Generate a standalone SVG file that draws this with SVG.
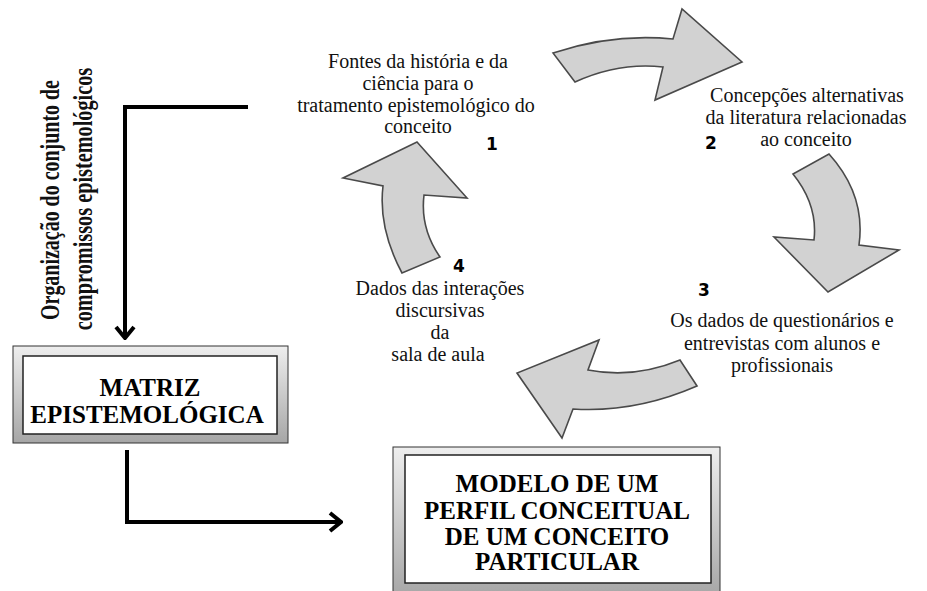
<svg xmlns="http://www.w3.org/2000/svg" width="927" height="591" viewBox="0 0 927 591">
<style>
.lbl{font-size:20px;fill:#111;text-anchor:middle}
.num{font-family:"DejaVu Sans",sans-serif;font-weight:bold;font-size:17px;fill:#000;text-anchor:middle}
.box{font-family:"Liberation Serif","Times New Roman",serif;font-weight:bold;font-size:25px;fill:#000;text-anchor:middle}
.side{font-family:"Liberation Serif","Times New Roman",serif;font-weight:bold;font-size:28px;fill:#111;text-anchor:middle}
.cyc{fill:#d2d2d2;stroke:#4a4a4a;stroke-width:1.6;stroke-linejoin:miter}
.frame{fill:url(#fg);stroke:#333;stroke-width:1}
.inner{fill:#fff;stroke:#222;stroke-width:1.5}
.conn{fill:none;stroke:#000;stroke-width:4;stroke-linejoin:miter}
</style>
<defs>
<linearGradient id="fg" x1="0" y1="0" x2="0" y2="1">
<stop offset="0" stop-color="#eeeeee"/>
<stop offset="1" stop-color="#a6a6a6"/>
</linearGradient>
<marker id="chev" viewBox="-14 -11 16 22" refX="0" refY="0" markerWidth="16" markerHeight="22" markerUnits="userSpaceOnUse" orient="auto">
<path d="M-11,-9 L0,0 L-11,9" fill="none" stroke="#000" stroke-width="4" stroke-linejoin="miter"/>
</marker>
</defs>
<rect width="927" height="591" fill="#fff"/>

<g id="connectors">
<path class="conn" d="M248,107 H125 V338" marker-end="url(#chev)"/>
<path class="conn" d="M127,450 V522 H341" marker-end="url(#chev)"/>
</g>

<g id="cycle-arrows">
<path id="arrow1" class="cyc" d="M553,53 Q613,33 673,39 L682,9 L742,62 L655,100 L663,67 Q619,62 575,82 Z"/>
<path id="arrow2" class="cyc" d="M829,154 Q866,195 859,245 L899,250 L828,292 L774,237 L814,240 Q818,205 793,174 Z"/>
<path id="arrow3" class="cyc" d="M680,360 Q634,379 588,370 L599,340 L517,373 L562,438 L573,409 Q635,413 697,386 Z"/>
<path id="arrow4" class="cyc" d="M417,142 L467,198 L424,195 Q420,228 440,257 L402,273 Q378,228 383,186 L343,178 Z"/>
</g>

<g id="side-label">
<text class="side" transform="translate(59,200) rotate(-90) scale(0.713,1)">Organização do conjunto de</text>
<text class="side" transform="translate(92,199) rotate(-90) scale(0.724,1)">compromissos epistemológicos</text>
</g>

<g id="step1">
<text class="lbl" x="418" y="68" style="font-family:'Liberation Serif'">Fontes da  história e da</text>
<text class="lbl" x="418" y="90" style="font-family:'Liberation Serif'">ciência para o</text>
<text class="lbl" x="416" y="112" style="font-family:'Liberation Serif'">tratamento epistemológico do</text>
<text class="lbl" x="418" y="133" style="font-family:'Liberation Serif'">conceito</text>
<text class="num" x="492" y="150">1</text>
</g>

<g id="step2">
<text class="lbl" x="807" y="102" style="font-family:'Liberation Serif'">Concepções alternativas</text>
<text class="lbl" x="806" y="124" style="font-family:'Liberation Serif'">da literatura relacionadas</text>
<text class="lbl" x="806" y="146" style="font-family:'Liberation Serif'">ao conceito</text>
<text class="num" x="711" y="149">2</text>
</g>

<g id="step3">
<text class="num" x="704" y="296">3</text>
<text class="lbl" x="782" y="327" style="font-family:'Liberation Serif'">Os dados de questionários e</text>
<text class="lbl" x="782" y="350" style="font-family:'Liberation Serif'">entrevistas com alunos e</text>
<text class="lbl" x="782" y="372" style="font-family:'Liberation Serif'">profissionais</text>
</g>

<g id="step4">
<text class="num" x="459" y="272">4</text>
<text class="lbl" x="440" y="295" style="font-family:'Liberation Serif'">Dados das interações</text>
<text class="lbl" x="440" y="317" style="font-family:'Liberation Serif'">discursivas</text>
<text class="lbl" x="440" y="339" style="font-family:'Liberation Serif'">da</text>
<text class="lbl" x="438" y="361" style="font-family:'Liberation Serif'">sala de aula</text>
</g>

<g id="matriz">
<rect class="frame" x="13" y="346" width="275" height="97"/>
<rect class="inner" x="23" y="356" width="254" height="78"/>
<text class="box" x="150" y="396">MATRIZ</text>
<text class="box" x="147" y="423">EPISTEMOLÓGICA</text>
</g>

<g id="modelo">
<rect class="frame" x="393" y="447" width="327" height="150"/>
<rect class="inner" x="405" y="455" width="306" height="128"/>
<text class="box" x="557" y="492" font-size="24">MODELO DE UM</text>
<text class="box" x="557" y="519" font-size="24">PERFIL CONCEITUAL</text>
<text class="box" x="557" y="545" font-size="24">DE UM CONCEITO</text>
<text class="box" x="557" y="570" font-size="24">PARTICULAR</text>
</g>
</svg>
